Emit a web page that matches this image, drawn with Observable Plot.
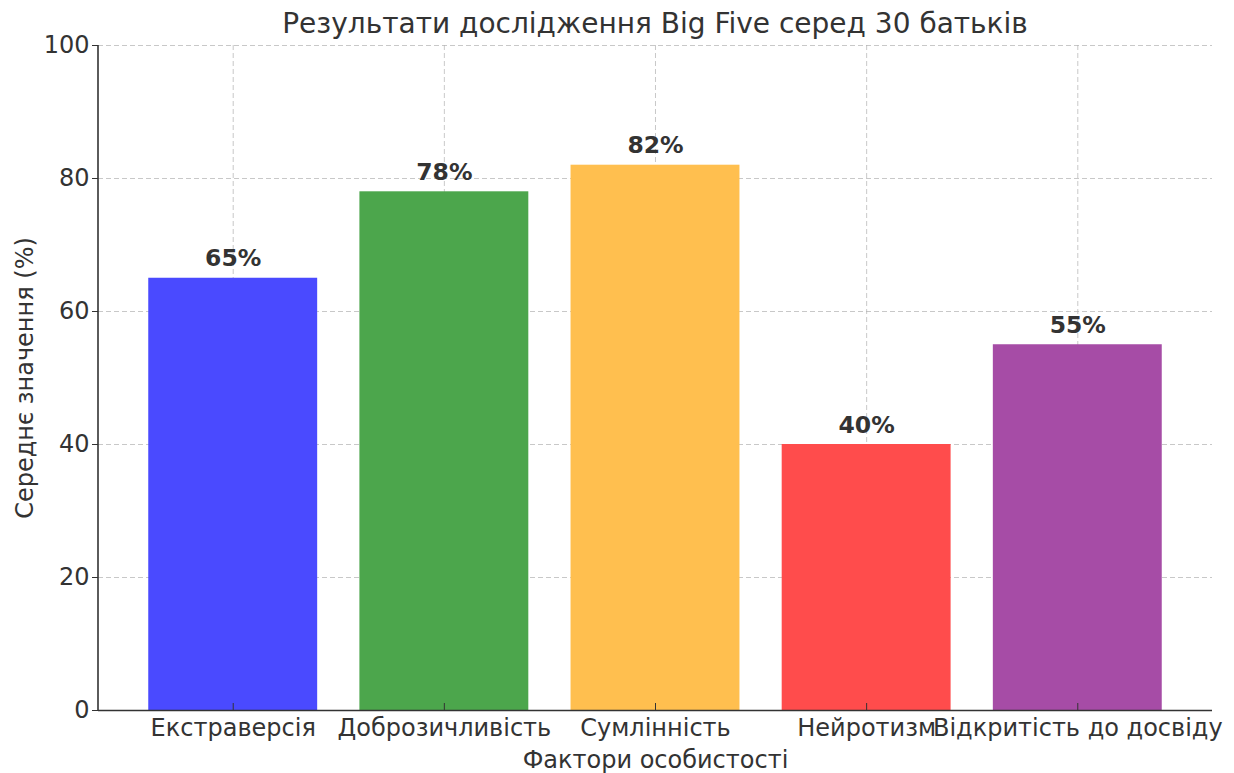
<!DOCTYPE html>
<html>
<head>
<meta charset="utf-8">
<script src="https://cdn.jsdelivr.net/npm/d3@7"></script>
<script src="https://cdn.jsdelivr.net/npm/@observablehq/plot@0.6"></script>
<style>
  body { margin: 0; background: #fff; font-family: "DejaVu Sans", sans-serif; }
  #wrap { position: relative; width: 1234px; height: 773px; }
  #title { position: absolute; left: 98px; width: 1114px; top: 6px; text-align: center;
           font-size: 28px; color: #333; line-height: 36px; white-space: nowrap; }
  #chart { position: absolute; left: 0; top: 36px; }
  #chart svg { overflow: visible; }
</style>
</head>
<body>
<div id="wrap">
  <div id="title">Результати дослідження Big Five серед 30 батьків</div>
  <div id="chart"></div>
</div>
<script>
const factors = ["Екстраверсія", "Доброзичливість", "Сумлінність", "Нейротизм", "Відкритість до досвіду"];
const values = [65, 78, 82, 40, 55];
const colors = ["#4a4aff", "#4ca64c", "#ffbf4f", "#ff4c4c", "#a64ca6"];
const yTicks = [0, 20, 40, 60, 80, 100];

const data = factors.map((f, i) => ({factor: f, value: values[i], color: colors[i]}));

const chart = Plot.plot({
  width: 1234,
  height: 737,
  marginLeft: 98,
  marginRight: 22,
  marginTop: 9,
  marginBottom: 63,
  style: {fontFamily: "'DejaVu Sans', sans-serif", fontSize: "24px", color: "#333", background: "transparent"},
  x: {domain: factors, paddingInner: 0.2, paddingOuter: 0.238, round: false, label: null},
  y: {domain: [0, 100], label: null},
  marks: [
    Plot.gridY(yTicks, {stroke: "#b0b0b0", strokeOpacity: 0.7, strokeDasharray: "5,3", strokeWidth: 1}),
    Plot.gridX(factors, {stroke: "#b0b0b0", strokeOpacity: 0.7, strokeDasharray: "5,3", strokeWidth: 1}),
    Plot.barY(data, {x: "factor", y: "value", fill: "color"}),
    Plot.ruleY([0], {stroke: "#333", strokeWidth: 1.6}),
    Plot.axisY({ticks: yTicks, tickSize: 6, tickPadding: 3, fontSize: 24, fill: "#333", stroke: "#333", label: null}),
    Plot.axisX({tickSize: -7, tickPadding: 15, fontSize: 24, fill: "#333", stroke: "#333", label: null}),
    Plot.text(data, {x: "factor", y: "value", text: d => d.value + "%", dy: -12, lineAnchor: "bottom",
      fontSize: 23.5, fontWeight: "bold", fill: "#333"}),
    Plot.text(["Середнє значення (%)"], {frameAnchor: "left", textAnchor: "middle", rotate: -90, dx: -73, fontSize: 24, fill: "#333"}),
    Plot.text(["Фактори особистості"], {frameAnchor: "bottom", dy: 57, fontSize: 24, fill: "#333"})
  ]
});
const svg = d3.select(chart);
svg.append("line").attr("x1", 98).attr("x2", 98).attr("y1", 9).attr("y2", 674)
  .attr("stroke", "#333").attr("stroke-width", 1.6);
document.getElementById("chart").appendChild(chart);
</script>
</body>
</html>
